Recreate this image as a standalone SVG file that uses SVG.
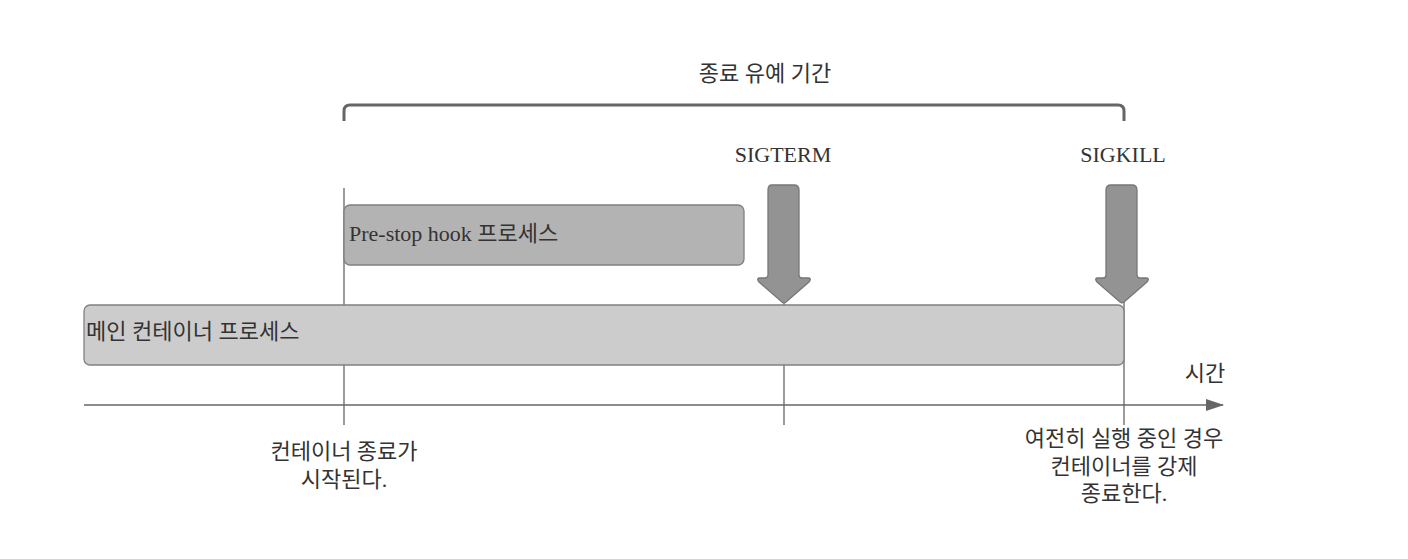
<svg xmlns="http://www.w3.org/2000/svg" width="1408" height="559" viewBox="0 0 1408 559">
<defs>
<style>
text{font-family:"Liberation Serif","Noto Sans CJK KR",serif;font-size:22px;fill:#333}
.ln{stroke:#666;stroke-width:1.3;fill:none}
.box{stroke:#808080;stroke-width:1.3}
.arr{fill:#939393;stroke:#777;stroke-width:1.3;stroke-linejoin:round}
</style>
<marker id="ah" markerWidth="18" markerHeight="12" refX="17" refY="6" orient="auto" markerUnits="userSpaceOnUse">
<path d="M0,0 L18,6 L0,12 z" fill="#666"/>
</marker>
</defs>
<rect width="1408" height="559" fill="#fff"/>
<g id="connectors">
<path d="M344,121 V111 Q344,105 350,105 H1118 Q1124,105 1124,111 V121" stroke="#666" stroke-width="3" fill="none"/>
<line class="ln" x1="344" y1="188" x2="344" y2="425"/>
<line class="ln" x1="784" y1="302" x2="784" y2="425"/>
<line class="ln" x1="1124" y1="302" x2="1124" y2="425"/>
<line class="ln" x1="84" y1="405" x2="1223" y2="405" marker-end="url(#ah)"/>
</g>
<g id="title"><text x="765" y="81" text-anchor="middle">종료 유예 기간</text></g>
<g id="prestop">
<rect class="box" x="344" y="205" width="400" height="60" rx="6" fill="#b3b3b3"/>
<text x="349" y="241">Pre-stop hook 프로세스</text>
</g>
<g id="main">
<rect class="box" x="84" y="305" width="1040" height="60" rx="6" fill="#cccccc"/>
<text x="86" y="339">메인 컨테이너 프로세스</text>
</g>
<g id="sigterm">
<text x="783" y="162" text-anchor="middle">SIGTERM</text>
<path class="arr" d="M772,185 H794 Q799,185 799,190 V275 Q799,278 802,278 H808 Q812,278 809,282 L786,302 Q784,303.5 782,302 L759,282 Q756,278 760,278 H765 Q768,278 768,275 V190 Q768,185 772,185 Z"/>
</g>
<g id="sigkill">
<text x="1123" y="162" text-anchor="middle">SIGKILL</text>
<path class="arr" d="M1111,185 H1132 Q1137,185 1137,190 V275 Q1137,278 1140,278 H1146 Q1150,278 1147,282 L1124,302 Q1122,303.5 1120,302 L1097,282 Q1094,278 1098,278 H1103 Q1106,278 1106,275 V190 Q1106,185 1111,185 Z"/>
</g>
<g id="time"><text x="1205" y="381" text-anchor="middle">시간</text></g>
<g id="start-label">
<text x="344" y="459" text-anchor="middle">컨테이너 종료가</text>
<text x="344" y="487" text-anchor="middle">시작된다.</text>
</g>
<g id="kill-label">
<text x="1124" y="446" text-anchor="middle">여전히 실행 중인 경우</text>
<text x="1124" y="474" text-anchor="middle">컨테이너를 강제</text>
<text x="1124" y="501" text-anchor="middle">종료한다.</text>
</g>
</svg>
